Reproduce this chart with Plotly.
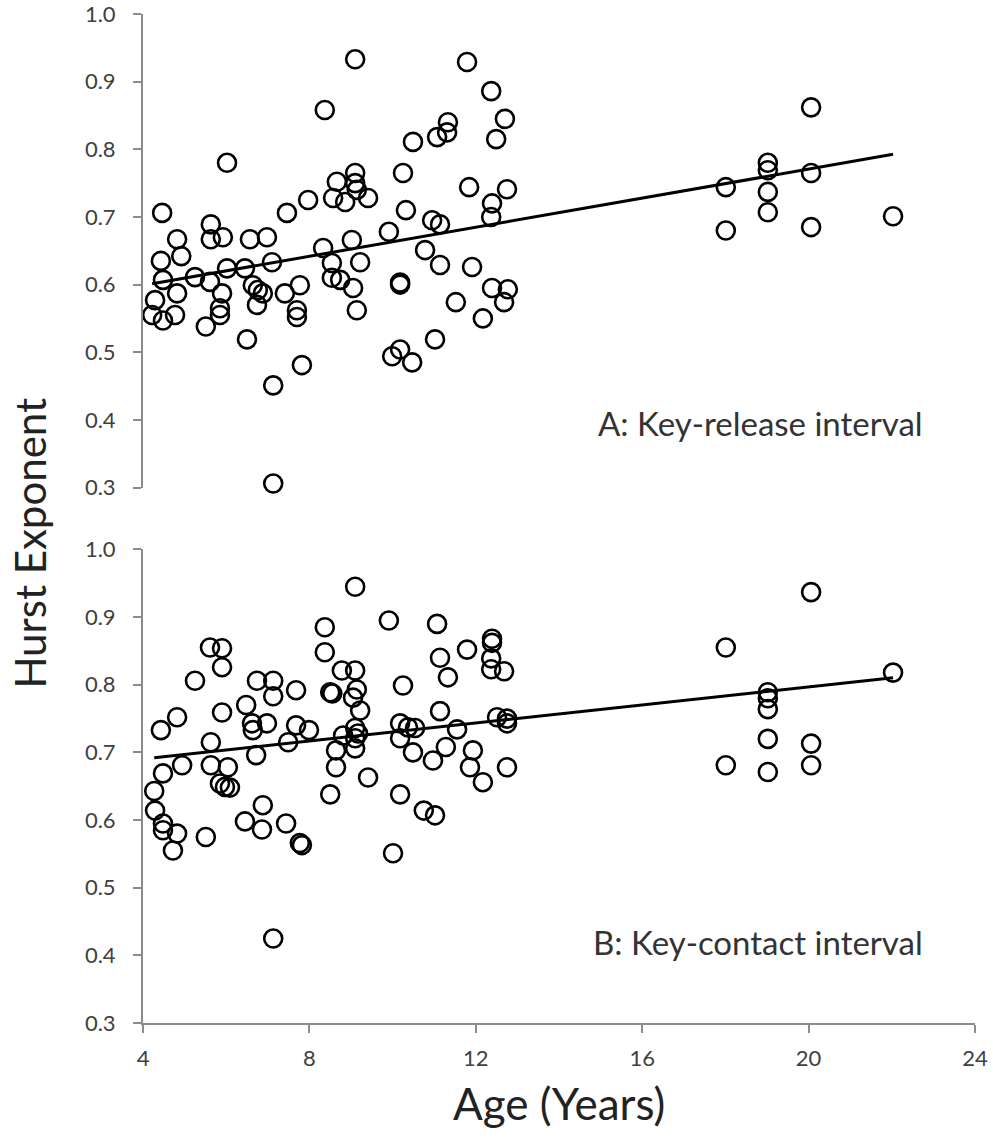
import numpy as np
import plotly.graph_objects as go
from plotly.subplots import make_subplots

# Panel A: Key-release interval
age_a = [4.46, 6.02, 4.82, 5.63, 5.63, 5.92, 6.57, 6.98, 7.46, 7.97, 8.33, 8.37,
         4.43, 4.92, 4.48, 4.29, 4.22, 4.48, 4.77, 4.82, 5.25, 5.61, 5.51, 5.90,
         5.85, 5.85, 6.02, 6.45, 6.64, 6.76, 6.88, 6.74, 6.50, 7.10, 7.13, 7.13,
         7.41, 7.77, 7.70, 7.70, 7.82, 9.10, 11.79, 12.37, 12.70, 12.49, 10.49,
         11.07, 11.31, 11.33, 10.25, 9.10, 9.10, 8.66, 9.14, 9.41, 8.57, 8.86,
         11.84, 12.75, 9.91, 10.32, 10.95, 11.14, 12.39, 12.37, 9.02, 10.78,
         8.54, 9.22, 8.54, 8.74, 9.05, 11.14, 11.91, 10.18, 10.18, 9.14, 11.52,
         12.39, 12.77, 12.68, 12.17, 11.02, 9.99, 10.18, 10.47,
         20.06, 19.02, 19.02, 19.02, 19.02, 18.01, 18.01, 20.06, 20.06, 22.03]
hurst_a = [0.706, 0.780, 0.667, 0.689, 0.667, 0.670, 0.667, 0.670, 0.706, 0.725, 0.654, 0.858,
           0.635, 0.642, 0.607, 0.577, 0.555, 0.547, 0.555, 0.587, 0.611, 0.604, 0.538, 0.587,
           0.565, 0.555, 0.624, 0.624, 0.599, 0.592, 0.587, 0.570, 0.519, 0.633, 0.451, 0.306,
           0.587, 0.599, 0.562, 0.552, 0.481, 0.933, 0.929, 0.886, 0.845, 0.815, 0.811,
           0.818, 0.825, 0.840, 0.765, 0.765, 0.750, 0.752, 0.740, 0.728, 0.728, 0.722,
           0.744, 0.741, 0.678, 0.710, 0.695, 0.689, 0.720, 0.700, 0.666, 0.651,
           0.632, 0.633, 0.610, 0.607, 0.595, 0.629, 0.626, 0.603, 0.600, 0.562, 0.574,
           0.595, 0.593, 0.574, 0.550, 0.519, 0.494, 0.504, 0.485,
           0.862, 0.780, 0.769, 0.737, 0.707, 0.744, 0.680, 0.765, 0.685, 0.701]

# Panel B: Key-contact interval
age_b = [4.43, 4.82, 5.25, 5.61, 5.90, 5.90, 5.90, 5.63, 4.48, 4.94, 5.63, 6.04,
         5.85, 5.97, 6.09, 6.74, 7.13, 7.13, 7.68, 6.48, 6.62, 6.64, 6.98, 6.72,
         7.68, 7.99, 7.49, 8.37, 8.37, 4.27, 4.29, 4.48, 4.48, 4.82, 4.72, 5.51,
         6.45, 6.88, 6.86, 7.44, 7.77, 7.82, 7.13, 8.50, 9.10, 9.91, 11.07, 12.39,
         12.39, 11.79, 12.37, 12.37, 12.68, 11.14, 11.33, 8.78, 9.10, 8.50, 8.55,
         9.14, 9.05, 9.22, 10.25, 11.14, 8.81, 9.10, 9.10, 9.17, 10.18, 10.37,
         10.54, 10.18, 11.55, 12.51, 12.75, 12.75, 8.64, 9.10, 10.49, 10.97, 11.28,
         11.93, 8.64, 9.41, 11.86, 12.17, 12.75, 10.18, 10.75, 11.02, 10.01,
         20.06, 18.01, 22.03, 19.02, 19.02, 19.02, 19.02, 19.02, 20.06, 20.06, 18.01]
hurst_b = [0.733, 0.752, 0.806, 0.855, 0.854, 0.826, 0.759, 0.715, 0.669, 0.681, 0.681, 0.678,
           0.654, 0.649, 0.648, 0.806, 0.806, 0.783, 0.792, 0.770, 0.743, 0.733, 0.743, 0.696,
           0.740, 0.733, 0.715, 0.885, 0.848, 0.643, 0.614, 0.595, 0.585, 0.580, 0.555, 0.575,
           0.598, 0.622, 0.586, 0.595, 0.566, 0.563, 0.425, 0.638, 0.945, 0.895, 0.890, 0.868,
           0.862, 0.852, 0.839, 0.823, 0.820, 0.840, 0.811, 0.821, 0.821, 0.789, 0.787,
           0.793, 0.781, 0.762, 0.799, 0.761, 0.725, 0.736, 0.721, 0.728, 0.743, 0.737,
           0.736, 0.721, 0.734, 0.752, 0.750, 0.743, 0.703, 0.706, 0.700, 0.688, 0.708,
           0.703, 0.678, 0.663, 0.678, 0.656, 0.678, 0.638, 0.614, 0.607, 0.551,
           0.937, 0.855, 0.818, 0.789, 0.780, 0.764, 0.720, 0.671, 0.713, 0.681, 0.681]

x_ticks = [4, 8, 12, 16, 20, 24]
y_ticks = [0.3, 0.4, 0.5, 0.6, 0.7, 0.8, 0.9, 1.0]
label_a = "A: Key-release interval"
label_b = "B: Key-contact interval"

FONT = "Lato"
TICK_COLOR = "#404040"
AXIS_COLOR = "#8c8c8c"

fig = make_subplots(rows=2, cols=1, vertical_spacing=0.0614)

for row, (ax, hy) in enumerate([(age_a, hurst_a), (age_b, hurst_b)], start=1):
    fig.add_trace(go.Scatter(
        x=ax, y=hy, mode="markers",
        marker=dict(symbol="circle-open", size=18, color="black",
                    line=dict(width=2.6, color="black")),
        showlegend=False, cliponaxis=False), row=row, col=1)
    xa = np.array(ax)
    slope, inter = np.polyfit(xa, np.array(hy), 1)
    xl = np.array([xa.min(), xa.max()])
    fig.add_trace(go.Scatter(
        x=xl, y=slope * xl + inter, mode="lines",
        line=dict(color="black", width=3), showlegend=False), row=row, col=1)

ycommon = dict(range=[0.3, 1.0], tickvals=y_ticks, tickformat=".1f",
               showline=True, linecolor=AXIS_COLOR, linewidth=2,
               ticks="outside", ticklen=8, tickwidth=2, tickcolor=AXIS_COLOR,
               showgrid=False, zeroline=False, ticklabelstandoff=13, automargin=False,
               ticklabeloverflow="allow",
               tickfont=dict(family=FONT, size=22, color=TICK_COLOR))

fig.update_yaxes(**ycommon, row=1, col=1)
fig.update_yaxes(**ycommon, row=2, col=1)

fig.update_xaxes(range=[4, 24], showline=False, showticklabels=False, ticks="",
                 showgrid=False, zeroline=False, automargin=False, row=1, col=1)
fig.update_xaxes(range=[4, 24], tickvals=x_ticks,
                 showline=True, linecolor=AXIS_COLOR, linewidth=2,
                 ticks="outside", ticklen=8, tickwidth=2, tickcolor=AXIS_COLOR,
                 showgrid=False, zeroline=False, ticklabelstandoff=7, automargin=False,
                 ticklabeloverflow="allow",
                 tickfont=dict(family=FONT, size=22, color=TICK_COLOR),
                 row=2, col=1)

fig.update_layout(
    width=993, height=1139,
    margin=dict(l=143, r=18, t=14, b=116),
    paper_bgcolor="white", plot_bgcolor="white",
    annotations=[
        dict(text="Hurst Exponent", textangle=-90, xref="paper", yref="paper",
             x=-0.136, y=0.476, xanchor="center", yanchor="middle", showarrow=False,
             font=dict(family=FONT, size=42, color="#222222")),
        dict(text="Age (Years)", xref="paper", yref="paper",
             x=0.5, y=-0.079, xanchor="center", yanchor="middle", showarrow=False,
             font=dict(family=FONT, size=44, color="#222222")),
        dict(text=label_a, xref="x", yref="y", x=22.8, y=0.395,
             xanchor="right", yanchor="middle", showarrow=False,
             font=dict(family=FONT, size=33, color="#333333")),
        dict(text=label_b, xref="x2", yref="y2", x=22.8, y=0.42,
             xanchor="right", yanchor="middle", showarrow=False,
             font=dict(family=FONT, size=33, color="#333333")),
    ],
)

fig.write_html("out.html", config={"displayModeBar": False},
               post_script="document.body.style.margin='0';document.body.style.overflow='hidden';")
